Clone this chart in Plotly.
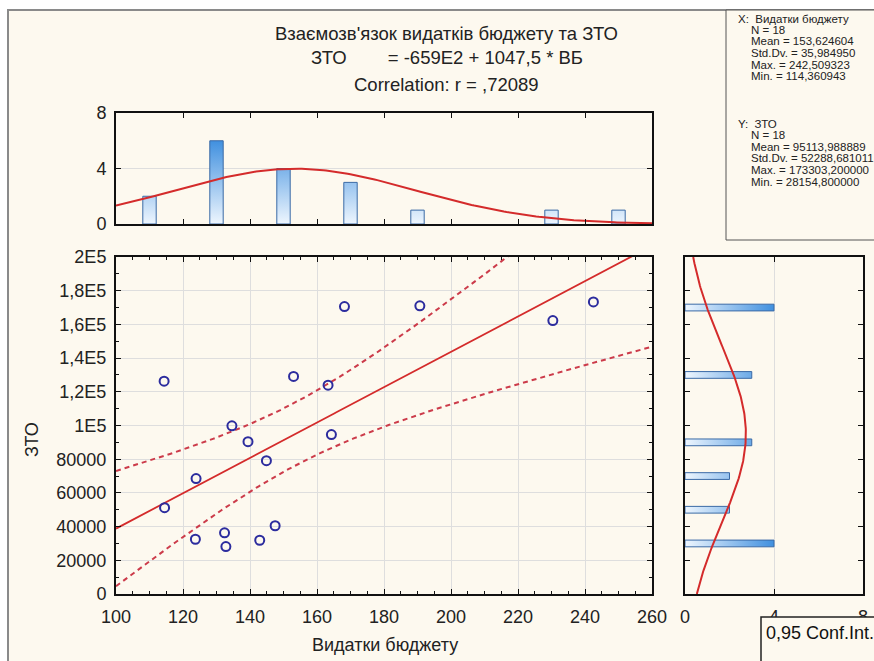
import numpy as np
import plotly.graph_objects as go

# ---------------- data ----------------
budget = [114.36, 114.5, 123.9, 123.7, 132.4, 132.8, 134.6, 139.4, 144.9,
          142.9, 147.5, 153.0, 163.3, 164.3, 168.2, 190.7, 230.4, 242.51]
zto = [126300, 51200, 68500, 32500, 36300, 28155, 99800, 90400, 79100,
       31900, 40500, 129100, 123900, 94600, 170600, 171000, 162300, 173303]

x_bin_edges = [100, 120, 140, 160, 180, 200, 220, 240, 260]
y_bin_edges = [20000, 40000, 60000, 80000, 100000, 120000, 140000, 160000, 180000]

x_tick_vals = [100, 120, 140, 160, 180, 200, 220, 240, 260]
y_tick_vals = [0, 20000, 40000, 60000, 80000, 100000, 120000, 140000, 160000, 180000, 200000]
y_tick_text = ["0", "20000", "40000", "60000", "80000", "1E5", "1,2E5", "1,4E5",
               "1,6E5", "1,8E5", "2E5"]

title_lines = ["Взаємозв'язок видатків бюджету та ЗТО",
               "ЗТО" + "\u00a0" * 8 + "= -659E2 + 1047,5 * ВБ",
               "Correlation: r = ,72089"]
stats_x = ["X:\u00a0\u00a0Видатки бюджету", "N = 18", "Mean = 153,624604",
           "Std.Dv. = 35,984950", "Max. = 242,509323", "Min. = 114,360943"]
stats_y = ["Y:\u00a0\u00a0ЗТО", "N = 18", "Mean = 95113,988889",
           "Std.Dv. = 52288,681011", "Max. = 173303,200000", "Min. = 28154,800000"]

# ---------------- derived ----------------
bx = np.array(budget, float)
by = np.array(zto, float)
n = len(bx)
slope, intercept = np.polyfit(bx, by, 1)
xl = np.linspace(100, 260, 200)
yl = intercept + slope * xl
resid = by - (intercept + slope * bx)
s = np.sqrt(np.sum(resid ** 2) / (n - 2))
t975 = 2.1199
sxx = np.sum((bx - bx.mean()) ** 2)
half = t975 * s * np.sqrt(1 / n + (xl - bx.mean()) ** 2 / sxx)

cx, _ = np.histogram(bx, bins=x_bin_edges)
cy, _ = np.histogram(by, bins=y_bin_edges)
xc = (np.array(x_bin_edges[:-1]) + np.array(x_bin_edges[1:])) / 2
yc = (np.array(y_bin_edges[:-1]) + np.array(y_bin_edges[1:])) / 2

mx, sdx = bx.mean(), bx.std(ddof=1)
my, sdy = by.mean(), by.std(ddof=1)
gx = np.linspace(100, 260, 200)
gxv = n * 20 * np.exp(-0.5 * ((gx - mx) / sdx) ** 2) / (sdx * np.sqrt(2 * np.pi))
gy = np.linspace(0, 200000, 200)
gyv = n * 20000 * np.exp(-0.5 * ((gy - my) / sdy) ** 2) / (sdy * np.sqrt(2 * np.pi))


def bar_polys_v(centers, counts, w):
    px, py = [], []
    for c, k in zip(centers, counts):
        if k <= 0:
            continue
        px += [c - w / 2, c - w / 2, c + w / 2, c + w / 2, c - w / 2, None]
        py += [0, k, k, 0, 0, None]
    return px, py


def bar_polys_h(centers, counts, w):
    py, px = bar_polys_v(centers, counts, w)
    return px, py


# ---------------- figure ----------------
W, H = 874, 661
RED = "#d42b2b"
GRAD = [[0, "#eef6fe"], [1, "#2f86dc"]]
FONT = "Arial, 'Liberation Sans', sans-serif"
CREAM = "#fdf9ef"

fig = go.Figure()

# regression + CI
for sign in (1, -1):
    fig.add_trace(go.Scatter(x=xl, y=yl + sign * half, mode="lines",
                             line=dict(color="#cc3b4a", width=2, dash="5px,4px"),
                             xaxis="x", yaxis="y", hoverinfo="skip"))
fig.add_trace(go.Scatter(x=xl, y=yl, mode="lines", line=dict(color=RED, width=1.8),
                         xaxis="x", yaxis="y", hoverinfo="skip"))
fig.add_trace(go.Scatter(x=budget, y=zto, mode="markers",
                         marker=dict(symbol="circle-open", size=9,
                                     line=dict(width=2, color="#2c2c9e"), color="#2c2c9e"),
                         xaxis="x", yaxis="y"))

# top histogram (bars with vertical gradient)
tpx, tpy = bar_polys_v(xc, cx, 4)
fig.add_trace(go.Scatter(x=tpx, y=tpy, mode="lines", fill="toself",
                         fillgradient=dict(type="vertical", colorscale=GRAD, start=0, stop=6.6),
                         line=dict(color="#3a6aa6", width=1),
                         xaxis="x2", yaxis="y2", hoverinfo="skip"))
fig.add_trace(go.Scatter(x=gx, y=gxv, mode="lines", line=dict(color=RED, width=2),
                         xaxis="x2", yaxis="y2", hoverinfo="skip"))

# right histogram (bars with horizontal gradient)
rpx, rpy = bar_polys_h(yc, cy, 4000)
fig.add_trace(go.Scatter(x=rpx, y=rpy, mode="lines", fill="toself",
                         fillgradient=dict(type="horizontal", colorscale=GRAD, start=0, stop=4.4),
                         line=dict(color="#3a6aa6", width=1),
                         xaxis="x3", yaxis="y3", hoverinfo="skip"))
fig.add_trace(go.Scatter(x=gyv, y=gy, mode="lines", line=dict(color=RED, width=2),
                         xaxis="x3", yaxis="y3", hoverinfo="skip"))

X0, X1 = 116 / W, 652 / W
XR0, XR1 = 685 / W, 863 / W
YS0, YS1 = 1 - 594 / H, 1 - 257 / H
YT0, YT1 = 1 - 224 / H, 1 - 113 / H

tickfont = dict(family=FONT, size=18, color="#222")
common = dict(showline=True, linecolor="#111", linewidth=2, mirror="allticks",
              ticks="inside", tickcolor="#111", tickfont=tickfont, zeroline=False,
              gridcolor="#dedede", gridwidth=1, automargin=False)

fig.update_layout(
    width=W, height=H, margin=dict(l=0, r=0, t=0, b=0, autoexpand=False),
    paper_bgcolor="white", plot_bgcolor="white", showlegend=False,
    font=dict(family=FONT, color="#222"),
    xaxis=dict(domain=[X0, X1], anchor="y", range=[100, 260], tickvals=x_tick_vals,
               ticklen=5, minor=dict(ticks="inside", dtick=5, ticklen=3, tickcolor="#111"),
               showgrid=True, ticklabelstandoff=5, **common),
    yaxis=dict(domain=[YS0, YS1], anchor="x", range=[0, 200000], tickvals=y_tick_vals,
               ticktext=y_tick_text, ticklen=5,
               minor=dict(ticks="inside", dtick=10000, ticklen=3, tickcolor="#111"),
               showgrid=True, ticklabelstandoff=4, **common),
    xaxis2=dict(domain=[X0, X1], anchor="y2", range=[100, 260], tickvals=x_tick_vals,
                showticklabels=False, ticklen=5, showgrid=False, **common),
    yaxis2=dict(domain=[YT0, YT1], anchor="x2", range=[0, 8], tickvals=[0, 4, 8],
                ticklen=5, showgrid=True, ticklabelstandoff=4, **common),
    xaxis3=dict(domain=[XR0, XR1], anchor="y3", range=[0, 8], tickvals=[0, 4, 8],
                ticklen=5, showgrid=True, ticklabelstandoff=5, **common),
    yaxis3=dict(domain=[YS0, YS1], anchor="x3", range=[0, 200000], tickvals=y_tick_vals,
                showticklabels=False, ticklen=5, showgrid=False, **common),
)

shapes = [
    dict(type="rect", xref="paper", yref="paper", x0=8 / W, x1=1.05, y0=-0.05, y1=1 - 10 / H,
         fillcolor=CREAM, line=dict(color="#8a8a8a", width=2), layer="below"),
    dict(type="rect", xref="paper", yref="paper", x0=726 / W, x1=1.05, y0=1 - 240 / H,
         y1=1 - 10 / H, fillcolor=CREAM, line=dict(color="#555", width=1), layer="below"),
    dict(type="rect", xref="paper", yref="paper", x0=761 / W, x1=1.05, y0=-0.05,
         y1=1 - 617 / H, fillcolor=CREAM, line=dict(color="#222", width=1.5), layer="above"),
]
fig.update_layout(shapes=shapes)

ann = []
for txt, yy in zip(title_lines, [33, 58, 84]):
    ann.append(dict(text=txt, x=447 / W, y=1 - yy / H, xref="paper", yref="paper",
                    showarrow=False, xanchor="center", yanchor="middle",
                    font=dict(family=FONT, size=18.5, color="#222")))
for block, ys in ((stats_x, [19, 30, 41, 53, 65, 76]), (stats_y, [124, 135, 147, 158, 170, 182])):
    for i, (txt, yy) in enumerate(zip(block, ys)):
        ann.append(dict(text=txt, x=(736 if i == 0 else 749) / W, y=1 - yy / H, xref="paper",
                        yref="paper", showarrow=False, xanchor="left", yanchor="middle",
                        font=dict(family=FONT, size=11.5, color="#222")))
ann.append(dict(text="Видатки бюджету", x=385 / W, y=1 - 645 / H, xref="paper", yref="paper",
                showarrow=False, xanchor="center", yanchor="middle",
                font=dict(family=FONT, size=18, color="#222")))
ann.append(dict(text="ЗТО", x=32 / W, y=1 - 440 / H, xref="paper", yref="paper",
                showarrow=False, xanchor="center", yanchor="middle", textangle=-90,
                font=dict(family=FONT, size=18, color="#222")))
ann.append(dict(text="0,95 Conf.Int.", x=764 / W, y=1 - 633 / H, xref="paper", yref="paper",
                showarrow=False, xanchor="left", yanchor="middle",
                font=dict(family=FONT, size=18, color="#111")))
fig.update_layout(annotations=ann)

fig.write_html("out.html")
